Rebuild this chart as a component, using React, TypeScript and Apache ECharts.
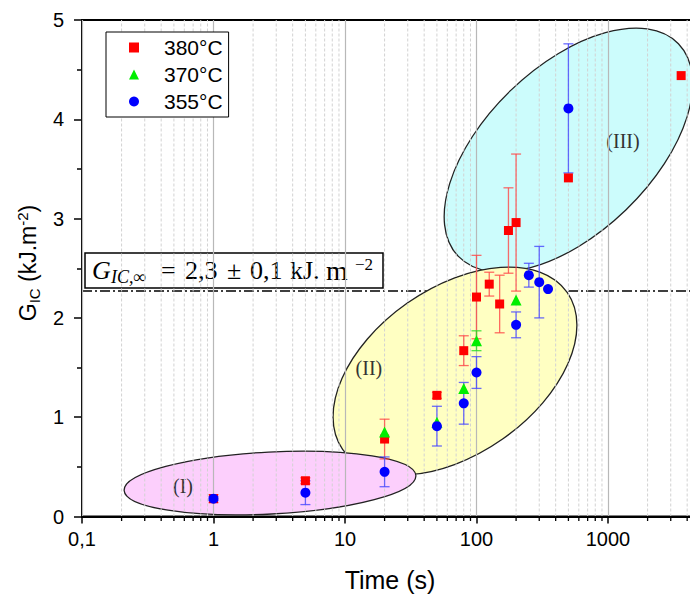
import React, { useEffect, useRef } from 'react';
import * as echarts from 'echarts';

// ---- data: [time (s), G_IC (kJ.m-2), ± error] ----
const SERIES_NAMES = ['380°C', '370°C', '355°C'];
const data380 = [
  [1, 0.18, 0.04], [5, 0.36, 0.03], [20, 0.78, 0.2], [50, 1.22, 0.03], [80, 1.67, 0.15],
  [100, 2.21, 0.42], [125, 2.34, 0.12], [150, 2.14, 0.29], [175, 2.88, 0.43], [200, 2.96, 0.69],
  [500, 3.41, 0], [3600, 4.44, 0],
];
const data370 = [
  [20, 0.85, 0], [50, 0.95, 0], [80, 1.29, 0], [100, 1.77, 0.1], [200, 2.18, 0],
];
const data355 = [
  [1, 0.18, 0.02], [5, 0.24, 0.12], [20, 0.45, 0.15], [50, 0.91, 0.2], [80, 1.14, 0.21],
  [100, 1.45, 0.16], [200, 1.93, 0.13], [250, 2.43, 0.12], [300, 2.36, 0.36], [350, 2.29, 0],
  [500, 4.11, 0.65],
];
const G_INF = 2.27; // G_IC,inf plateau line

// axis extents and tick values
const X_MIN = 0.1;
const X_MAX = 10000;
const Y_MIN = 0;
const Y_MAX = 5;
const DECADES = [0.1, 1, 10, 100, 1000];
const MINOR_MULT = [2, 3, 4, 5, 6, 7, 8, 9];
const MINOR_TICKS = DECADES.flatMap((d) => MINOR_MULT.map((m) => +(d * m).toPrecision(3)));

// regions (annotations): centres and label anchors in data coordinates
const REGION_LABELS = ['(I)', '(II)', '(III)'];
const REGION_CENTERS = [[2.69, 0.337], [68.6, 1.465], [500, 3.69]];
const REGION_LABEL_POS = [[0.586, 0.307], [15.2, 1.495], [1300, 3.78]];

// region shapes (pixel semi-axes, rotation) and fills
const REGION_SHAPE = [
  { a: 146, b: 31, angle: 2.9, fill: '#fccffc' },
  { a: 137, b: 83, angle: 35, fill: '#ffffc2' },
  { a: 153, b: 83, angle: 44, fill: '#ccfcfc' },
];

const FONT = 'Liberation Sans, Arial, sans-serif';
const SERIF = 'Liberation Serif, Times New Roman, serif';

function errRender(color: string) {
  return (params: any, api: any) => {
    const x = api.value(0);
    const y = api.value(1);
    const e = api.value(2);
    if (!e) return null;
    const top = api.coord([x, y + e]);
    const bot = api.coord([x, y - e]);
    const hw = 5;
    const st = { stroke: color, lineWidth: 1.3 };
    return {
      type: 'group',
      children: [
        { type: 'line', shape: { x1: top[0], y1: top[1], x2: bot[0], y2: bot[1] }, style: st },
        { type: 'line', shape: { x1: top[0] - hw, y1: top[1], x2: top[0] + hw, y2: top[1] }, style: st },
        { type: 'line', shape: { x1: bot[0] - hw, y1: bot[1], x2: bot[0] + hw, y2: bot[1] }, style: st },
      ],
    };
  };
}

export default function App() {
  const ref = useRef<HTMLDivElement>(null);
  useEffect(() => {
    const chart = echarts.init(ref.current!, null, { renderer: 'svg' });
    const main = (t: string, x: number) => ({
      type: 'text', x, y: 270,
      style: { text: t, fontSize: 26, fontFamily: SERIF, fill: '#000', verticalAlign: 'middle' },
    });
    const option: any = {
      animation: false,
      backgroundColor: '#fff',
      grid: {
        left: 82, top: 20, width: 657.5, height: 496.5,
        show: true, borderColor: '#000', borderWidth: 2, backgroundColor: 'transparent',
      },
      xAxis: {
        type: 'log', logBase: 10, min: X_MIN, max: X_MAX, splitNumber: 5, z: 3,
        axisLine: { lineStyle: { color: '#000', width: 2 } },
        axisTick: { show: true, length: 7, lineStyle: { color: '#000', width: 1.5 } },
        splitLine: { show: true, lineStyle: { color: '#b8b8b8', width: 1.2 } },
        axisLabel: {
          fontSize: 20, color: '#000', fontFamily: FONT, margin: 12, showMaxLabel: false,
          formatter: (v: number) => (v < 1 ? v.toFixed(1).replace('.', ',') : String(Math.round(v))),
        },
      },
      yAxis: {
        type: 'value', min: Y_MIN, max: Y_MAX, interval: 1,
        axisLine: { show: true, lineStyle: { color: '#000', width: 2 } },
        axisTick: { show: true, length: 8, lineStyle: { color: '#000', width: 1.5 } },
        minorTick: { show: true, splitNumber: 2, length: 5, lineStyle: { color: '#000', width: 1.5 } },
        splitLine: { show: false },
        axisLabel: { fontSize: 20, color: '#000', fontFamily: FONT, margin: 18 },
      },
      legend: {
        left: 106, top: 32, orient: 'vertical', z: 10, selectedMode: false,
        backgroundColor: '#fff', borderColor: '#000', borderWidth: 1, borderRadius: 0,
        padding: [5, 6, 5, 23], itemWidth: 10, itemHeight: 10, itemGap: 6,
        textStyle: { fontSize: 21, color: '#000', fontFamily: FONT, lineHeight: 21, padding: [0, 0, 0, 20] },
        data: [
          { name: SERIES_NAMES[0], icon: 'rect' },
          { name: SERIES_NAMES[1], icon: 'triangle' },
          { name: SERIES_NAMES[2], icon: 'circle' },
        ],
      },
      series: [
        {
          type: 'custom', name: 'plateau', z: 1, silent: true,
          data: [[1, G_INF]], encode: { x: 0, y: 1 },
          renderItem: (params: any, api: any) => {
            const p = api.coord([api.value(0), api.value(1)]);
            const cs = params.coordSys;
            return {
              type: 'line',
              shape: { x1: cs.x, y1: p[1], x2: cs.x + cs.width, y2: p[1] },
              style: { stroke: '#000', lineWidth: 1.5, lineDash: [10, 3, 2, 3] },
            };
          },
        },
        {
          type: 'custom', name: 'regions', z: 2, silent: true,
          data: [2, 1, 0].map((i) => [REGION_CENTERS[i][0], REGION_CENTERS[i][1], i]),
          encode: { x: 0, y: 1 },
          renderItem: (params: any, api: any) => {
            const i = api.value(2);
            const c = api.coord([api.value(0), api.value(1)]);
            const g = REGION_SHAPE[i];
            const lp = api.coord(REGION_LABEL_POS[i]);
            return {
              type: 'group',
              children: [
                {
                  type: 'ellipse', x: c[0], y: c[1], rotation: (g.angle * Math.PI) / 180,
                  shape: { cx: 0, cy: 0, rx: g.a, ry: g.b },
                  style: { fill: g.fill, stroke: '#222', lineWidth: 1.3 },
                },
                {
                  type: 'text', x: lp[0], y: lp[1],
                  style: { text: REGION_LABELS[i], fontSize: 20, fontFamily: SERIF, fill: '#333', align: 'center', verticalAlign: 'middle' },
                },
              ],
            };
          },
        },
        {
          type: 'custom', name: 'minor', z: 3, silent: true,
          data: MINOR_TICKS.map((v) => [v, Y_MIN]), encode: { x: 0, y: 1 },
          renderItem: (params: any, api: any) => {
            const v = api.value(0);
            const b = api.coord([v, Y_MIN]);
            const t = api.coord([v, Y_MAX]);
            return {
              type: 'group',
              children: [
                { type: 'line', shape: { x1: b[0], y1: b[1], x2: t[0], y2: t[1] }, style: { stroke: '#d2d2d2', lineWidth: 1, lineDash: [3, 2] } },
                { type: 'line', shape: { x1: b[0], y1: b[1], x2: b[0], y2: b[1] + 4.5 }, style: { stroke: '#000', lineWidth: 1.3 } },
              ],
            };
          },
        },
        { type: 'custom', name: '380 err', z: 4, silent: true, data: data380, encode: { x: 0, y: 1 }, renderItem: errRender('rgba(255,70,70,0.8)') },
        { type: 'custom', name: '370 err', z: 4, silent: true, data: data370, encode: { x: 0, y: 1 }, renderItem: errRender('rgba(40,220,40,0.8)') },
        { type: 'custom', name: '355 err', z: 4, silent: true, data: data355, encode: { x: 0, y: 1 }, renderItem: errRender('rgba(70,70,255,0.8)') },
        {
          type: 'scatter', name: SERIES_NAMES[0], z: 5, symbol: 'rect', symbolSize: 9,
          data: data380.map((d) => [d[0], d[1]]), itemStyle: { color: '#ff0000', opacity: 1 },
        },
        {
          type: 'scatter', name: SERIES_NAMES[1], z: 5, symbol: 'triangle', symbolSize: 11,
          data: data370.map((d) => [d[0], d[1]]), itemStyle: { color: '#00ee00', opacity: 1 },
        },
        {
          type: 'scatter', name: SERIES_NAMES[2], z: 5, symbol: 'circle', symbolSize: 10,
          data: data355.map((d) => [d[0], d[1]]), itemStyle: { color: '#0000ff', opacity: 1 },
        },
      ],
      graphic: [
        {
          type: 'text', x: 28, y: 263, rotation: Math.PI / 2, z: 10,
          style: {
            text: '{a|G}{b|IC}{a| (kJ.m}{c|-2}{a|)}',
            align: 'center', verticalAlign: 'middle', fill: '#000',
            rich: {
              a: { fontSize: 23, fontFamily: FONT, fill: '#000' },
              b: { fontSize: 15, fontFamily: FONT, fill: '#000', padding: [12, 0, 0, 0] },
              c: { fontSize: 15, fontFamily: FONT, fill: '#000', padding: [0, 0, 12, 0] },
            },
          },
        },
        {
          type: 'text', x: 390, y: 580, z: 10,
          style: { text: 'Time (s)', fontSize: 25, fontFamily: FONT, fill: '#000', align: 'center', verticalAlign: 'middle' },
        },
        {
          type: 'group', z: 10,
          children: [
            { type: 'rect', shape: { x: 85, y: 253, width: 298, height: 35 }, style: { fill: '#fff', stroke: '#000', lineWidth: 1.5 } },
            { type: 'text', x: 92, y: 270, style: { text: 'G', fontSize: 26, fontStyle: 'italic', fontFamily: SERIF, fill: '#000', verticalAlign: 'middle' } },
            { type: 'text', x: 111, y: 277, style: { text: 'IC,∞', fontSize: 18, fontStyle: 'italic', fontFamily: SERIF, fill: '#000', verticalAlign: 'middle' } },
            main('=', 161),
            main('2,3', 185),
            main('±', 227),
            main('0,1', 250),
            main('kJ.', 290),
            { type: 'text', x: 326, y: 270, style: { text: 'm', fontSize: 28, fontFamily: SERIF, fill: '#000', verticalAlign: 'middle' } },
            { type: 'text', x: 355, y: 264, style: { text: '−2', fontSize: 17, fontFamily: SERIF, fill: '#000', verticalAlign: 'middle' } },
          ],
        },
      ],
    };
    chart.setOption(option);
    return () => chart.dispose();
  }, []);
  return (
    <div
      ref={ref}
      style={{ position: 'fixed', left: 0, top: 0, width: 760, height: 595, background: '#fff' }}
    />
  );
}
